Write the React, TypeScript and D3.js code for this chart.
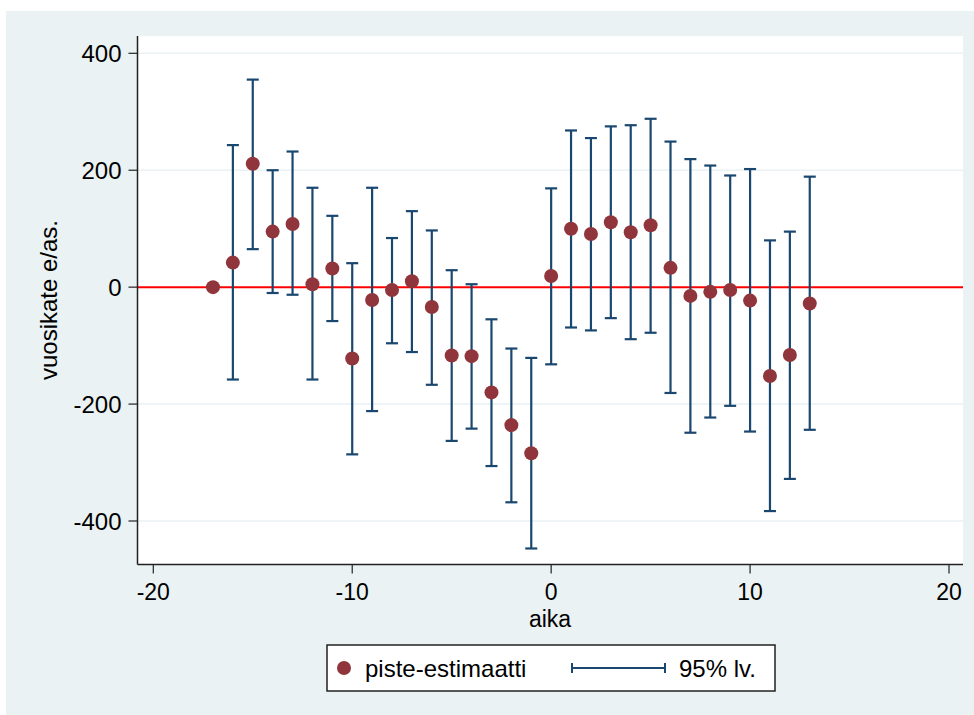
import React from "react";
import * as d3 from "d3";

const aika = [-17, -16, -15, -14, -13, -12, -11, -10, -9, -8, -7, -6, -5, -4, -3, -2, -1, 0, 1, 2, 3, 4, 5, 6, 7, 8, 9, 10, 11, 12, 13];
const estimate = [0, 42, 211, 95, 108, 5, 32, -122, -22, -5, 10, -34, -117, -118, -180, -236, -284, 19, 100, 91, 111, 94, 106, 33, -15, -8, -5, -23, -152, -116, -28];
const ciUpper: (number | null)[] = [null, 243, 355, 200, 232, 170, 122, 41, 170, 84, 130, 97, 29, 5, -55, -105, -121, 169, 268, 255, 275, 277, 288, 249, 219, 208, 191, 202, 80, 95, 189];
const ciLower: (number | null)[] = [null, -158, 65, -10, -13, -158, -58, -286, -212, -96, -111, -167, -263, -242, -306, -368, -447, -132, -69, -74, -53, -89, -78, -181, -249, -223, -203, -247, -383, -328, -244];
const xTicks = [-20, -10, 0, 10, 20];
const yTicks = [400, 200, 0, -200, -400];

const FONT = "'Liberation Sans', Arial, sans-serif";
const BG = "#eaf2f3";
const NAVY = "#1a476f";
const MAROON = "#90353b";

export default function App() {
  const W = 974, H = 715;
  const plot = { left: 137.5, right: 963, top: 36, bottom: 564.5 };
  const x = d3.scaleLinear().domain([-20, 20]).range([153.3, 949]);
  const y = d3.scaleLinear().domain([400, -400]).range([53.3, 521]);

  return (
    <svg width={W} height={H} style={{ position: "absolute", left: 0, top: 0 }} fontFamily={FONT}>
      <rect x={0} y={0} width={W} height={H} fill="#ffffff" />
      <rect x={6} y={11} width={W - 6} height={H - 11} fill={BG} />
      <rect x={plot.left} y={plot.top} width={plot.right - plot.left} height={plot.bottom - plot.top} fill="#ffffff" />
      {yTicks.filter((t) => t !== 0).map((t) => (
        <line key={"g" + t} x1={plot.left} x2={plot.right} y1={y(t)} y2={y(t)} stroke={BG} strokeWidth={1.5} />
      ))}
      <line x1={plot.left} x2={plot.right} y1={y(0)} y2={y(0)} stroke="#ff0000" strokeWidth={2} />
      {aika.map((a, i) => {
        const u = ciUpper[i], l = ciLower[i];
        if (u === null || l === null) return null;
        const cx = x(a);
        return (
          <g key={"e" + a} stroke={NAVY} strokeWidth={2.2}>
            <line x1={cx} x2={cx} y1={y(u)} y2={y(l)} />
            <line x1={cx - 6} x2={cx + 6} y1={y(u)} y2={y(u)} />
            <line x1={cx - 6} x2={cx + 6} y1={y(l)} y2={y(l)} />
          </g>
        );
      })}
      {aika.map((a, i) => (
        <circle key={"p" + a} cx={x(a)} cy={y(estimate[i])} r={7} fill={MAROON} />
      ))}
      <line x1={plot.left} x2={plot.left} y1={plot.top} y2={plot.bottom} stroke="#222" strokeWidth={1.5} />
      <line x1={plot.left} x2={plot.right} y1={plot.bottom} y2={plot.bottom} stroke="#222" strokeWidth={1.5} />
      {yTicks.map((t) => (
        <g key={"yt" + t}>
          <line x1={plot.left - 9} x2={plot.left} y1={y(t)} y2={y(t)} stroke="#222" strokeWidth={1.2} />
          <text x={plot.left - 16} y={y(t)} textAnchor="end" dominantBaseline="central" fontSize={24} fill="#000">
            {t}
          </text>
        </g>
      ))}
      {xTicks.map((t) => (
        <g key={"xt" + t}>
          <line x1={x(t)} x2={x(t)} y1={plot.bottom} y2={plot.bottom + 9} stroke="#222" strokeWidth={1.2} />
          <text x={x(t)} y={600} textAnchor="middle" fontSize={23} fill="#000">
            {t}
          </text>
        </g>
      ))}
      <text x={550} y={627} textAnchor="middle" fontSize={23} fill="#000">aika</text>
      <text transform={`translate(57,300) rotate(-90)`} textAnchor="middle" fontSize={24} fill="#000">
        vuosikate e/as.
      </text>
      <rect x={327} y={645} width={448} height={46} fill="#ffffff" stroke="#222" strokeWidth={1.5} />
      <circle cx={344} cy={668} r={7} fill={MAROON} />
      <text x={365} y={668} dominantBaseline="central" fontSize={24} fill="#000">piste-estimaatti</text>
      <g stroke={NAVY} strokeWidth={2}>
        <line x1={572} x2={665} y1={668} y2={668} />
        <line x1={572} x2={572} y1={663} y2={673} />
        <line x1={665} x2={665} y1={663} y2={673} />
      </g>
      <text x={679} y={668} dominantBaseline="central" fontSize={24} fill="#000">95% lv.</text>
    </svg>
  );
}
